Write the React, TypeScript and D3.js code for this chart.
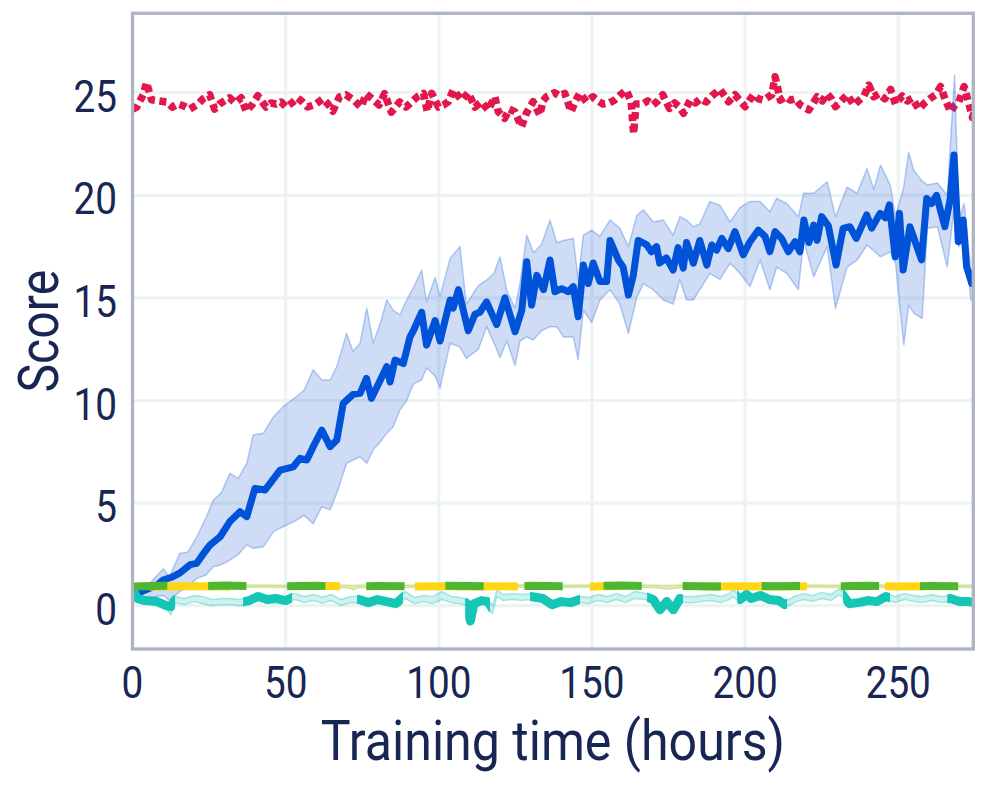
import React from "react";
import * as d3 from "d3";

const W = 988;
const H = 786;
const margin = { top: 13.3, right: 14.7, bottom: 137, left: 132.5 };

const xTicks = [0, 50, 100, 150, 200, 250];
const yTicks = [0, 5, 10, 15, 20, 25];

// red (dotted), flat near 24.5
const redT = [0, 1.4, 3.5, 4.6, 6.2, 8.5, 11.1, 13, 14.9, 16.8, 18.7, 21.4, 23, 25.2, 26.8, 28.4, 30, 31.7, 33.5, 35.5, 37.1, 39, 40.9, 43.6, 45.2, 46.9, 48.5, 50.1, 52, 53.9, 55.5, 57.2, 59.9, 62.1, 63.8, 65.4, 67.6, 69.7, 72.5, 74.6, 76.3, 79, 80.5, 82.3, 84.5, 87.2, 89.3, 91.2, 93, 95, 96.2, 97.7, 99.9, 101.5, 103.1, 104.7, 106, 107.5, 109.6, 111.8, 113.9, 116.1, 118.3, 119.4, 121.5, 123, 124.8, 127, 128.6, 130.8, 133, 134, 135.1, 137.8, 139.5, 141.1, 143.2, 144.6, 146, 148.2, 150.3, 152, 153.6, 155.5, 157.4, 159.3, 161.2, 162.8, 163.6, 164.4, 166.6, 168.2, 169.9, 171.5, 173.1, 175.3, 177, 178.6, 179.9, 182.1, 183.8, 185.4, 187.3, 189.1, 191.8, 194.6, 196.7, 198.4, 200, 202.7, 204.4, 206, 208.7, 209.8, 211.5, 213.2, 214.8, 216.4, 218, 220.8, 223.5, 225.2, 226.8, 228.2, 229.5, 231.4, 233.3, 235.5, 238.8, 240.4, 242, 243.7, 245.6, 247.5, 249.1, 251.3, 253, 254.5, 256.7, 258.6, 260.5, 262.2, 263.8, 265.4, 267.1, 268.5, 269.8, 271.5, 273.1, 274.2, 275];
const redV = [24.2, 24.3, 24.9, 25.5, 24.65, 24.6, 24.55, 24.3, 24.45, 24.35, 24.2, 24.45, 24.7, 24.9, 24.2, 24.45, 24.6, 24.75, 24.5, 24.75, 24.1, 24.4, 24.85, 24.3, 24.5, 24.45, 24.55, 24.3, 24.5, 24.75, 24.55, 24.3, 24.45, 24.7, 24.45, 24.1, 24.8, 24.9, 24.6, 24.3, 24.95, 24.6, 24.4, 24.95, 24.05, 24.55, 24.3, 24.56, 24.8, 24.97, 24.1, 24.97, 24.3, 24.4, 24.56, 25.13, 24.9, 24.64, 25.0, 24.3, 24.56, 24.16, 24.8, 24.08, 23.75, 24.2, 24.08, 23.34, 24.0, 24.56, 23.9, 24.6, 24.8, 25.0, 24.85, 24.97, 24.08, 24.6, 24.97, 24.56, 24.8, 24.6, 24.45, 24.5, 24.64, 24.9, 25.13, 24.56, 23.0, 24.45, 24.45, 24.6, 24.4, 24.6, 24.9, 24.24, 24.5, 24.3, 24.0, 24.64, 24.5, 24.7, 24.55, 24.84, 25.16, 24.56, 24.9, 24.6, 24.32, 24.9, 24.7, 24.64, 24.9, 25.78, 24.64, 24.8, 24.64, 24.7, 24.4, 24.16, 24.8, 24.6, 24.95, 24.7, 24.32, 24.6, 24.9, 24.4, 24.84, 25.37, 24.8, 24.95, 24.7, 25.16, 24.45, 24.84, 24.6, 24.73, 24.2, 24.5, 24.73, 24.9, 25.3, 24.64, 24.07, 24.4, 24.56, 25.3, 24.45, 23.8, 24.1];

// blue mean
const blueT = [0, 4, 8, 10, 13, 15.5, 18.8, 20.9, 23, 25.3, 28.6, 31.8, 35.1, 37.3, 40, 43.3, 48.2, 52.5, 54.7, 56.9, 59, 61.8, 64.5, 66.7, 68.8, 72, 74.3, 76.4, 78, 83, 84.1, 85.7, 88.4, 90.6, 91.7, 94.4, 96, 98.8, 100.4, 103.7, 104.7, 106.4, 109.6, 111.8, 113.4, 115.6, 118.9, 121.6, 124.9, 127.1, 128.7, 130.3, 132, 134.2, 136.3, 137.9, 140.1, 142.3, 143.9, 145.5, 147.2, 148.8, 150.4, 152.6, 154.8, 155.9, 158.6, 160.2, 161.9, 163.5, 165.1, 167.8, 169.4, 171.1, 172.1, 174.3, 176.5, 178.1, 179.8, 180.9, 183.1, 185.2, 187.5, 189.1, 190.7, 192.4, 194.5, 196.7, 199.4, 201.6, 204.3, 206.5, 208.1, 209.8, 211.9, 214.1, 216.3, 217.9, 219.2, 220.8, 222.4, 223.5, 225, 227.2, 229.7, 232, 234.2, 236.3, 239.7, 241.3, 244.1, 245.8, 247.1, 249, 250.4, 251.6, 253.8, 257.6, 259.3, 260.9, 262.5, 265.2, 266.9, 268.2, 269.6, 271.2, 272.3, 274, 275];
const blueMean = [0.5, 0.75, 1.0, 1.25, 1.4, 1.6, 2.0, 2.06, 2.5, 2.96, 3.36, 4.1, 4.58, 4.34, 5.72, 5.64, 6.61, 6.77, 7.18, 7.1, 7.75, 8.56, 7.75, 8.07, 9.86, 10.3, 10.35, 11.08, 10.1, 11.65, 10.9, 11.97, 11.8, 13.1, 13.4, 14.3, 12.7, 13.9, 12.9, 14.9, 14.5, 15.4, 13.4, 14.2, 14.3, 14.8, 13.7, 15.0, 13.35, 14.4, 16.76, 14.65, 16.1, 15.4, 16.85, 15.3, 15.45, 15.3, 15.55, 14.08, 16.6, 15.7, 16.7, 15.8, 15.8, 17.8, 16.85, 16.5, 15.14, 16.1, 17.8, 17.6, 17.25, 17.5, 16.7, 16.95, 16.36, 17.45, 16.45, 17.7, 16.69, 17.8, 16.6, 17.58, 17.33, 17.9, 17.4, 18.23, 17.1, 17.74, 18.3, 18.0, 17.25, 18.23, 17.9, 17.25, 17.74, 17.25, 18.8, 17.7, 18.55, 17.8, 18.96, 18.5, 16.6, 18.39, 18.47, 17.9, 19.04, 18.4, 19.12, 18.9, 19.53, 17.0, 19.12, 16.36, 18.47, 16.85, 19.85, 19.6, 20.0, 18.47, 19.77, 21.96, 17.74, 18.8, 16.52, 15.71, 16.3];

// blue band
const bandT = [0, 5, 10.1, 12, 15.5, 18, 21, 24, 26.4, 29, 31.8, 34.5, 37.3, 39.4, 42.7, 46, 49.2, 53.6, 56, 59, 61.8, 64.5, 66.7, 69.9, 72, 74.3, 76.5, 78.6, 81, 83, 85.1, 87.3, 89.5, 91.7, 94.4, 96, 98.8, 100.4, 103.7, 106.9, 109, 112.9, 115.6, 118, 120, 122.2, 124.9, 126.5, 128.7, 130.9, 133.5, 136.3, 138.5, 140.7, 143.9, 145.5, 147.2, 149.9, 152.6, 155.9, 159.1, 161.9, 164.6, 166.8, 170, 173.3, 176.5, 178.7, 180.9, 183.1, 185.2, 188.5, 191.8, 195.1, 198.3, 201.6, 204.9, 208.1, 210.3, 213.6, 217.4, 219.1, 222.4, 226.8, 229.5, 233.3, 236.6, 239.8, 242, 244.2, 247.4, 249.1, 251.8, 253.4, 255.1, 257.8, 259.5, 262.8, 266, 268.4, 269.8, 271.5, 273.7, 275];
const blueLo = [0.35, 0.4, 0.5, 0.25, 0.7, 0.9, 1.33, 1.5, 1.9, 2.0, 2.22, 2.5, 2.96, 2.8, 2.87, 3.6, 3.85, 4.17, 4.4, 4.0, 4.83, 4.67, 5.48, 6.94, 7.1, 7.26, 6.94, 7.6, 8.0, 8.4, 8.72, 9.54, 10.0, 10.8, 11.0, 11.6, 11.2, 10.6, 12.8, 12.6, 12.05, 12.5, 13.6, 12.8, 12.1, 12.9, 11.7, 12.9, 13.1, 12.95, 13.4, 13.6, 13.6, 13.1, 13.1, 12.0, 14.4, 13.8, 14.9, 15.4, 14.7, 13.27, 15.0, 15.7, 15.4, 14.9, 14.7, 15.9, 14.9, 14.9, 15.4, 16.2, 15.9, 16.7, 16.2, 15.55, 16.85, 15.4, 16.5, 16.2, 15.4, 17.8, 16.03, 17.5, 14.49, 16.5, 16.85, 17.58, 17.3, 17.0, 17.25, 16.7, 12.7, 14.65, 14.25, 14.0, 18.4, 18.47, 16.5, 19.6, 17.5, 18.1, 14.9, 15.0];
const blueHi = [0.85, 1.0, 1.8, 1.4, 2.56, 2.6, 3.36, 4.3, 5.15, 5.5, 6.45, 6.2, 6.94, 8.32, 8.4, 9.2, 9.7, 10.2, 10.5, 11.5, 11.0, 11.0, 11.65, 13.27, 12.4, 12.8, 14.5, 12.8, 13.8, 14.9, 14.4, 14.17, 14.9, 15.5, 16.36, 14.8, 16.0, 15.06, 16.93, 17.5, 14.7, 15.6, 15.87, 16.2, 17.0, 15.35, 14.5, 15.7, 18.06, 17.2, 17.6, 18.8, 17.7, 17.8, 17.9, 15.9, 18.06, 18.3, 18.0, 18.8, 18.4, 17.5, 19.0, 19.3, 18.7, 18.8, 18.06, 18.96, 18.8, 18.47, 18.6, 19.7, 19.5, 18.7, 19.4, 19.7, 19.7, 19.2, 19.85, 19.6, 18.96, 20.1, 20.1, 20.66, 18.96, 20.4, 20.1, 21.3, 20.3, 21.47, 20.5, 18.96, 20.4, 22.1, 21.2, 20.7, 20.5, 20.6, 20.0, 25.86, 18.8, 19.6, 16.36, 16.5];

// teal
const tealT = [0, 1.5, 4, 8, 11, 12.5, 14, 17, 20, 23, 26, 29, 32, 35, 38, 41, 44, 47, 50, 53, 56, 59, 62, 65, 68, 71, 74, 77, 80, 83, 86, 89, 92, 95, 98, 101, 104, 107, 109, 110.3, 111.5, 114, 116, 117.5, 119, 121, 124, 127, 130, 132, 134, 137, 140, 143, 146, 149, 152, 155, 158, 161, 164, 167.5, 170, 172.2, 174.4, 176.6, 178.7, 181, 183, 186, 189, 192, 195, 196, 198.3, 200.5, 202, 205, 208, 211, 213, 216, 219, 222, 225, 228, 231, 234, 237, 240, 243, 246, 249, 252, 255, 258, 261, 264, 267, 270, 273, 275];
const tealMean = [0.85, 0.35, 0.25, 0.2, 0.0, -0.05, 0.3, 0.2, 0.35, 0.25, 0.15, 0.2, 0.2, 0.15, 0.25, 0.45, 0.3, 0.35, 0.25, 0.45, 0.3, 0.4, 0.28, 0.4, 0.15, 0.3, 0.3, 0.15, 0.3, 0.2, 0.1, 0.5, 0.25, 0.35, 0.3, 0.5, 0.3, 0.25, 0.13, -0.75, 0.1, 0.25, 0.2, -0.15, 0.6, 0.4, 0.45, 0.4, 0.45, 0.4, 0.35, 0.05, 0.2, 0.15, 0.3, 0.25, 0.4, 0.3, 0.45, 0.3, 0.5, 0.44, 0.3, -0.2, 0.2, -0.2, 0.35, 0.3, 0.3, 0.35, 0.4, 0.3, 0.45, 0.68, 0.3, 0.55, 0.35, 0.5, 0.3, 0.25, 0.05, 0.3, 0.45, 0.35, 0.5, 0.4, 0.7, 0.1, 0.15, 0.25, 0.2, 0.45, 0.3, 0.45, 0.35, 0.3, 0.4, 0.3, 0.35, 0.2, 0.2, 0.15];
const tealLo = [0.7, 0.2, 0.1, 0.05, -0.15, -0.45, 0.15, 0.05, 0.2, 0.1, 0.0, 0.05, 0.05, 0.0, 0.1, 0.3, 0.15, 0.2, 0.1, 0.3, 0.15, 0.25, 0.12, 0.25, 0.0, 0.15, 0.15, 0.0, 0.15, 0.05, -0.05, 0.35, 0.1, 0.2, 0.1, 0.3, 0.15, 0.1, 0.0, -0.9, -0.05, 0.1, 0.05, -0.4, 0.45, 0.25, 0.3, 0.25, 0.3, 0.25, 0.2, -0.1, 0.05, 0.0, 0.15, 0.1, 0.25, 0.15, 0.3, 0.15, 0.35, 0.3, 0.15, -0.35, 0.05, -0.35, 0.2, 0.15, 0.15, 0.2, 0.25, 0.15, 0.3, 0.45, 0.15, 0.4, 0.2, 0.35, 0.15, 0.1, -0.1, 0.15, 0.3, 0.2, 0.35, 0.25, 0.55, -0.1, 0.0, 0.1, 0.05, 0.3, 0.15, 0.3, 0.2, 0.15, 0.25, 0.15, 0.2, 0.05, 0.05, 0.0];
const tealHi = [0.95, 0.5, 0.4, 0.35, 0.15, 0.1, 0.45, 0.35, 0.5, 0.45, 0.3, 0.35, 0.35, 0.3, 0.4, 0.6, 0.45, 0.55, 0.4, 0.6, 0.45, 0.55, 0.42, 0.55, 0.3, 0.45, 0.45, 0.3, 0.45, 0.35, 0.25, 0.7, 0.4, 0.5, 0.45, 0.7, 0.45, 0.4, 0.3, -0.6, 0.25, 0.4, 0.35, 0.0, 0.75, 0.55, 0.6, 0.55, 0.6, 0.55, 0.5, 0.2, 0.35, 0.3, 0.45, 0.4, 0.55, 0.45, 0.6, 0.45, 0.7, 0.6, 0.45, -0.05, 0.35, -0.05, 0.5, 0.45, 0.45, 0.5, 0.55, 0.45, 0.6, 0.8, 0.45, 0.7, 0.5, 0.65, 0.45, 0.4, 0.2, 0.45, 0.6, 0.5, 0.65, 0.55, 0.85, 0.25, 0.3, 0.4, 0.35, 0.6, 0.45, 0.6, 0.5, 0.45, 0.55, 0.45, 0.5, 0.35, 0.35, 0.3];

// green and yellow, nearly flat near 1
const flatT = [0, 10, 20, 30, 40, 50, 60, 70, 72, 74, 80, 90, 100, 110, 120, 130, 140, 150, 160, 170, 175, 180, 190, 200, 210, 220, 230, 240, 250, 260, 270, 275];
const greenV = [0.93, 0.97, 0.95, 0.98, 0.96, 0.95, 0.97, 0.94, 0.93, 0.95, 0.96, 0.95, 0.97, 0.96, 0.94, 0.97, 0.95, 0.96, 0.98, 0.95, 0.94, 0.96, 0.94, 0.97, 0.95, 0.96, 0.95, 0.97, 0.94, 0.96, 0.95, 0.96];
const yellowV = [0.9, 0.94, 0.95, 0.93, 0.95, 0.94, 0.96, 0.95, 0.92, 0.94, 0.95, 0.93, 0.95, 0.94, 0.95, 0.93, 0.95, 0.94, 0.96, 0.94, 0.93, 0.95, 0.94, 0.95, 0.93, 0.95, 0.94, 0.95, 0.94, 0.95, 0.94, 0.95];
const flatLo = [0.86, 0.9, 0.89, 0.9, 0.9, 0.89, 0.9, 0.88, 0.77, 0.88, 0.9, 0.89, 0.9, 0.9, 0.88, 0.9, 0.89, 0.9, 0.9, 0.89, 0.8, 0.9, 0.88, 0.9, 0.89, 0.9, 0.89, 0.9, 0.88, 0.9, 0.89, 0.9];
const flatHi = [0.97, 1.01, 1.0, 1.02, 1.01, 1.0, 1.02, 1.0, 0.99, 1.0, 1.01, 1.0, 1.02, 1.01, 1.0, 1.02, 1.0, 1.01, 1.02, 1.0, 0.99, 1.01, 1.0, 1.02, 1.0, 1.01, 1.0, 1.02, 1.0, 1.01, 1.0, 1.01];

// dash pattern of the teal line, as spans of hours where the stroke is drawn
const tealDashes = [[0, 13.9], [36.1, 52.1], [73.3, 88.3], [108.6, 116.7], [129.8, 146.1], [168, 179.7], [197.4, 213.7], [232, 247.3], [266, 276]];

const FONT = "Roboto, 'Noto Sans', sans-serif";
const TEXT = "#172652";
const SQ = 0.86;

type P = [number, number];
type B = { t: number; lo: number; hi: number };
const zip = (t: number[], v: number[]): P[] => t.map((d, i) => [d, v[i]]);
const zip3 = (t: number[], lo: number[], hi: number[]): B[] => t.map((d, i) => ({ t: d, lo: lo[i], hi: hi[i] }));

export default function App() {
  const x = d3.scaleLinear().domain([0, 274.5]).range([margin.left, W - margin.right]);
  const y = d3.scaleLinear().domain([-2.11, 28.87]).range([H - margin.bottom, margin.top]);

  const line = d3.line<P>().x(d => x(d[0])).y(d => y(d[1]));
  const area = d3.area<B>().x(d => x(d.t)).y0(d => y(d.lo)).y1(d => y(d.hi));
  const edgeLo = d3.line<B>().x(d => x(d.t)).y(d => y(d.lo));
  const edgeHi = d3.line<B>().x(d => x(d.t)).y(d => y(d.hi));

  const [x0, x1] = x.range();
  const [y0, y1] = y.range();

  const band = (data: B[], color: string, fo: number, so: number) => (
    <g>
      <path d={area(data) || ""} fill={color} fillOpacity={fo} stroke="none" />
      <path d={edgeLo(data) || ""} fill="none" stroke={color} strokeOpacity={so} strokeWidth={1.5} />
      <path d={edgeHi(data) || ""} fill="none" stroke={color} strokeOpacity={so} strokeWidth={1.5} />
    </g>
  );

  return (
    <div style={{ position: "fixed", left: 0, top: 0 }}>
      <svg width={W} height={H} viewBox={`0 0 ${W} ${H}`} style={{ display: "block", background: "#fff" }}>
        <defs>
          <clipPath id="plot">
            <rect x={x0} y={y1} width={x1 - x0} height={y0 - y1} />
          </clipPath>
          <clipPath id="tealDash">
            {tealDashes.map(([a, b], i) => (
              <rect key={i} x={x(a)} y={y1} width={x(b) - x(a)} height={y0 - y1} />
            ))}
          </clipPath>
        </defs>

        {/* grid */}
        <g stroke="#edf3f3" strokeWidth={3.2}>
          {xTicks.map(t => <line key={"gx" + t} x1={x(t)} x2={x(t)} y1={y1} y2={y0} />)}
          {yTicks.map(t => <line key={"gy" + t} x1={x0} x2={x1} y1={y(t)} y2={y(t)} />)}
        </g>

        <g clipPath="url(#plot)" fill="none" strokeLinejoin="round">
          <path d={line(zip(redT, redV)) || ""} stroke="#e2174c" strokeWidth={7.5} strokeDasharray="7,4.5" />

          {band(zip3(bandT, blueLo, blueHi), "#1f5fd8", 0.22, 0.3)}
          <path d={line(zip(blueT, blueMean)) || ""} stroke="#0052d9" strokeWidth={7} />

          {band(zip3(tealT, tealLo, tealHi), "#1cc6b6", 0.22, 0.35)}
          <g clipPath="url(#tealDash)">
            <path d={line(zip(tealT, tealMean)) || ""} stroke="#15c6b7" strokeWidth={9} />
          </g>

          {band(zip3(flatT, flatLo, flatHi), "#a8cc45", 0.35, 0.45)}
          <path d={line(zip(flatT, yellowV)) || ""} stroke="#ffd614" strokeWidth={8}
            strokeDasharray="0,17.5,80,95,15,75,103,72,30,80,107,78,40,400" />
          <path d={line(zip(flatT, greenV)) || ""} stroke="#4fb632" strokeWidth={8}
            strokeDasharray="38.3,40.8" strokeDashoffset={3.5} />
        </g>

        {/* frame */}
        <rect x={x0} y={y1} width={x1 - x0} height={y0 - y1} fill="none" stroke="#adb5c3" strokeWidth={3.3} />

        {/* ticks */}
        <g fontFamily={FONT} fontSize={45} fill={TEXT}>
          {yTicks.map(t => (
            <text key={"ty" + t} transform={`translate(117,${y(t) + 19}) scale(${SQ},1)`} textAnchor="end">{t}</text>
          ))}
          {xTicks.map(t => (
            <text key={"tx" + t} transform={`translate(${x(t)},698) scale(${SQ},1)`} textAnchor="middle">{t}</text>
          ))}
        </g>

        <g fontFamily={FONT} fontSize={56} fill={TEXT}>
          <text transform={`translate(${(x0 + x1) / 2},760) scale(0.895,1)`} textAnchor="middle">Training time (hours)</text>
          <text transform={`translate(58,${(y0 + y1) / 2}) rotate(-90) scale(${SQ},1)`} textAnchor="middle">Score</text>
        </g>
      </svg>
    </div>
  );
}
